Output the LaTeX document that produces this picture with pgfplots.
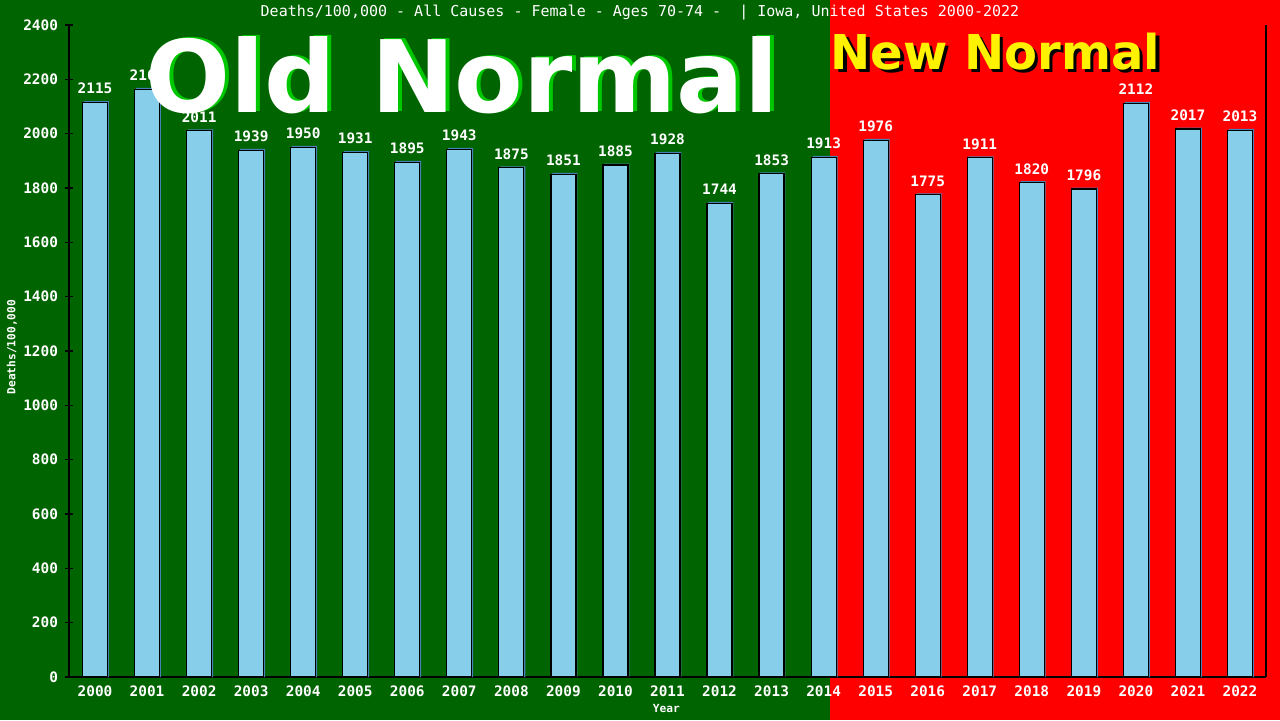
\documentclass[border=0pt]{standalone}
\usepackage{pgfplots}
\pgfplotsset{compat=1.18}
\usepackage{pgfplotstable}
\usepackage{fontspec}
\setmainfont{DejaVu Sans Mono}
\newfontfamily\bigfont{DejaVu Sans}

\definecolor{bggreen}{RGB}{0,100,0}
\definecolor{bgred}{RGB}{255,0,0}
\definecolor{barblue}{RGB}{135,206,235}
\definecolor{shadowblue}{RGB}{70,130,180}
\definecolor{oldshadow}{RGB}{0,200,0}

\pgfplotstableread{
year deaths
2000 2115
2001 2164
2002 2011
2003 1939
2004 1950
2005 1931
2006 1895
2007 1943
2008 1875
2009 1851
2010 1885
2011 1928
2012 1744
2013 1853
2014 1913
2015 1976
2016 1775
2017 1911
2018 1820
2019 1796
2020 2112
2021 2017
2022 2013
}\deathsdata

\begin{document}
\begin{tikzpicture}
\useasboundingbox (0,0) rectangle (640pt,360pt);
\fill[bggreen] (0,0) rectangle (415pt,360pt);
\fill[bgred] (415pt,0) rectangle (640pt,360pt);
\begin{axis}[
    at={(34.5pt,21.5pt)}, anchor=south west,
    scale only axis,
    width=598.5pt, height=326pt,
    xmin=1999.5, xmax=2022.5,
    ymin=0, ymax=2400,
    xtick={2000,2001,...,2022},
    ytick={0,200,...,2400},
    /pgf/number format/assume math mode=true,
    /pgf/number format/1000 sep=,
    axis x line=bottom, axis y line=left,
    axis line style={-, black, line width=0.7pt},
    tick align=center, major tick length=4pt,
    ytick style={black, line width=0.7pt},
    xtick style={draw=none},
    tick label style={font=\fontsize{7.2}{8}\selectfont\bfseries, text=white},
    xticklabel style={yshift=3pt},
    xlabel={Year}, ylabel={Deaths/100,000},
    every axis y label/.style={at={(axis description cs:-0.0476,0.506)}, rotate=90, anchor=center,
        text=white, font=\fontsize{5.6}{6}\selectfont\bfseries},
    every axis x label/.style={at={(axis description cs:0.499,-0.049)}, anchor=center,
        text=white, font=\fontsize{5.6}{6}\selectfont\bfseries},
    ybar, bar width=12.5pt,
    clip=false,
]
\addplot[fill=shadowblue, draw=none, bar shift=0.7pt]
    table[x=year, y expr=\thisrow{deaths}+5] {\deathsdata};
\addplot[fill=barblue, draw=black, line width=0.6pt, bar shift=0pt,
    nodes near coords,
    every node near coord/.append style={font=\fontsize{7.2}{8}\selectfont\bfseries, text=white, yshift=0.5pt}]
    table[x=year, y=deaths] {\deathsdata};
\draw[black, line width=0.7pt] (rel axis cs:1,0) -- (rel axis cs:1,1);
\end{axis}
\node[text=white, font=\fontsize{7.5}{8}\selectfont] at (320pt,353.5pt)
    {Deaths/100,000 - All Causes - Female - Ages 70-74 -\ \ | Iowa, United States 2000-2022};
\node[anchor=base, inner sep=0pt, text=oldshadow, font=\bigfont\bfseries\fontsize{50}{50}\selectfont] at (233pt,304.5pt) {Old Normal};
\node[anchor=base, inner sep=0pt, text=white, font=\bigfont\bfseries\fontsize{50}{50}\selectfont] at (231pt,304pt) {Old Normal};
\node[anchor=base west, inner sep=0pt, text=black, font=\bigfont\bfseries\fontsize{24}{24}\selectfont] at (416.8pt,323.8pt) {New Normal};
\node[anchor=base west, inner sep=0pt, text=yellow, font=\bigfont\bfseries\fontsize{24}{24}\selectfont] at (415pt,325.5pt) {New Normal};
\end{tikzpicture}
\end{document}
